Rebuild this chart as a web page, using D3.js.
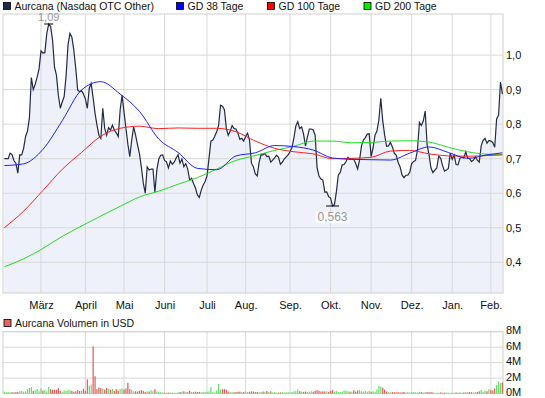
<!DOCTYPE html>
<html>
<head>
<meta charset="utf-8">
<script src="https://cdn.jsdelivr.net/npm/d3@7"></script>
<style>
  body { margin: 0; background: #fff; }
  svg text { font-family: "Liberation Sans", Arial, sans-serif; font-size: 11px; }
</style>
</head>
<body>
<svg id="chart" width="545" height="398"></svg>
<script>
// ========================================
// DATA (trading-day index 0 = early Feb)
// ========================================

const monthLabels = ['März', 'April', 'Mai', 'Juni', 'Juli', 'Aug.', 'Sep.', 'Okt.', 'Nov.', 'Dez.', 'Jan.', 'Feb.'];
const monthStartDay = [19, 42, 62, 83, 105, 125, 148, 169, 190, 211, 232, 252];

const priceTicks = [0.4, 0.5, 0.6, 0.7, 0.8, 0.9, 1.0];
const volumeTicks = [0, 2, 4, 6, 8];

const closePrices = [
  0.700,0.700,0.700,0.716,0.712,0.694,0.687,0.658,0.711,0.711,
  0.730,0.764,0.780,0.818,0.935,0.900,0.915,0.936,0.960,1.012,
  1.006,1.007,1.063,1.090,1.083,1.043,0.965,0.942,0.884,0.846,
  0.864,0.880,0.940,1.030,1.063,1.052,1.014,0.962,0.899,0.894,
  0.897,0.887,0.873,0.846,0.904,0.918,0.876,0.831,0.797,0.768,
  0.759,0.846,0.788,0.768,0.790,0.783,0.797,0.783,0.775,0.764,
  0.841,0.884,0.835,0.788,0.742,0.706,0.754,0.792,0.768,0.740,
  0.715,0.675,0.629,0.600,0.676,0.667,0.670,0.670,0.603,0.667,
  0.699,0.710,0.711,0.695,0.691,0.673,0.693,0.684,0.690,0.702,
  0.711,0.687,0.699,0.677,0.686,0.670,0.638,0.643,0.628,0.615,
  0.595,0.588,0.609,0.624,0.634,0.650,0.700,0.751,0.754,0.765,
  0.778,0.797,0.855,0.852,0.842,0.788,0.768,0.780,0.796,0.787,
  0.786,0.774,0.756,0.759,0.751,0.765,0.774,0.754,0.687,0.677,
  0.656,0.650,0.690,0.712,0.711,0.715,0.706,0.707,0.690,0.696,
  0.702,0.710,0.705,0.684,0.690,0.699,0.705,0.711,0.720,0.733,
  0.760,0.795,0.807,0.787,0.792,0.771,0.737,0.763,0.786,0.786,
  0.783,0.768,0.673,0.650,0.641,0.638,0.603,0.604,0.590,0.586,
  0.563,0.567,0.604,0.653,0.660,0.682,0.683,0.692,0.704,0.698,
  0.700,0.698,0.686,0.670,0.696,0.737,0.754,0.761,0.771,0.772,
  0.706,0.731,0.768,0.780,0.812,0.875,0.810,0.768,0.736,0.737,
  0.747,0.734,0.716,0.710,0.689,0.676,0.653,0.645,0.652,0.652,
  0.661,0.686,0.692,0.695,0.725,0.805,0.796,0.809,0.838,0.740,
  0.711,0.673,0.660,0.667,0.673,0.707,0.702,0.680,0.664,0.667,
  0.672,0.716,0.698,0.710,0.683,0.682,0.701,0.704,0.702,0.720,
  0.702,0.700,0.692,0.696,0.705,0.696,0.690,0.737,0.753,0.759,
  0.745,0.753,0.751,0.747,0.733,0.815,0.826,0.922,0.887
];

// volume in million USD
const volumeM = [
  0.25,0.20,0.22,0.18,0.20,0.15,0.22,0.20,0.30,0.36,
  0.25,0.30,0.58,0.72,0.85,0.35,0.50,0.58,0.30,0.67,
  0.40,0.45,0.30,0.85,0.58,0.50,0.50,0.50,0.72,0.35,
  0.25,0.40,0.35,0.45,0.45,0.35,0.25,0.30,0.45,0.35,
  0.40,0.63,0.35,1.84,0.99,1.17,6.10,2.25,0.58,0.81,
  0.72,0.63,0.50,0.72,0.58,0.50,0.63,0.35,0.58,0.40,
  0.58,0.67,0.50,0.67,1.39,0.58,0.50,0.30,0.30,0.27,
  0.35,0.45,0.35,0.22,0.27,0.27,0.45,0.30,0.58,0.27,
  0.22,0.20,0.15,0.12,0.10,0.12,0.15,0.10,0.12,0.10,
  0.18,0.20,0.25,0.30,0.22,0.18,0.35,0.22,0.18,0.25,
  0.20,0.22,0.18,0.22,0.20,0.25,0.30,0.85,0.20,0.15,
  0.40,1.26,0.50,0.58,0.58,0.50,0.27,0.20,0.20,0.18,
  0.20,0.22,0.25,0.20,0.22,0.27,0.20,0.22,0.30,0.25,
  0.20,0.22,0.18,0.20,0.27,0.22,0.35,0.22,0.30,0.15,
  0.20,0.12,0.12,0.15,0.20,0.15,0.18,0.20,0.15,0.22,
  0.30,0.35,0.54,0.30,0.27,0.22,0.27,0.22,0.25,0.30,
  0.25,0.35,0.45,0.35,0.27,0.30,0.27,0.30,0.22,0.35,
  0.45,0.25,0.35,0.22,0.20,0.27,0.40,0.40,0.30,0.25,
  0.27,0.45,0.25,0.40,0.45,0.30,0.27,0.35,0.25,0.35,
  0.22,0.30,0.25,0.54,0.99,0.90,0.76,0.50,0.27,0.20,
  0.15,0.20,0.18,0.15,0.20,0.15,0.18,0.22,0.15,0.20,
  0.15,0.20,0.22,0.18,0.15,0.25,0.20,0.15,0.22,0.20,
  0.18,0.20,0.15,0.12,0.10,0.12,0.15,0.10,0.12,0.15,
  0.12,0.10,0.08,0.12,0.15,0.10,0.18,0.12,0.15,0.20,
  0.15,0.20,0.18,0.15,0.20,0.22,0.30,0.45,0.25,0.40,
  0.30,0.58,0.45,0.40,0.67,1.12,1.57,1.35,1.44
];

const maDays = [0,10,20,30,40,50,60,70,80,90,100,110,120,130,140,150,160,170,180,190,200,210,220,230,240,250,258];
const gd38 = [0.680,0.685,0.727,0.810,0.899,0.923,0.887,0.837,0.757,0.718,0.672,0.668,0.708,0.717,0.738,0.735,0.725,0.702,0.698,0.697,0.696,0.716,0.734,0.718,0.701,0.711,0.717];
const gd100 = [0.500,0.548,0.608,0.669,0.718,0.765,0.788,0.794,0.787,0.789,0.788,0.788,0.778,0.751,0.730,0.720,0.714,0.700,0.701,0.704,0.722,0.724,0.714,0.708,0.707,0.709,0.711];
const gd200 = [0.387,0.410,0.440,0.475,0.505,0.534,0.562,0.589,0.606,0.626,0.645,0.670,0.695,0.709,0.724,0.736,0.751,0.751,0.746,0.747,0.751,0.752,0.748,0.733,0.720,0.713,0.712];

const fmt = d3.format('.1f');
const comma = s => s.replace('.', ',');

// ========================================
// SCALES
// ========================================

const svg = d3.select('#chart');
const plot = { left: 3, right: 503, top: 14, bottom: 293 };
const volPlot = { top: 331.7, bottom: 393.6 };

const x = d3.scaleLinear().domain([-0.68, 258.3]).range([plot.left, plot.right]);
const y = d3.scaleLinear().domain([0.311, 1.119]).range([plot.bottom, plot.top]);
const yVol = d3.scaleLinear().domain([0, 8]).range([volPlot.bottom, volPlot.top]);

// ========================================
// LEGEND
// ========================================

const legendItems = [
  { label: 'Aurcana (Nasdaq OTC Other)', color: '#1d2947', x: 3.5 },
  { label: 'GD 38 Tage', color: '#0000ff', x: 176.5 },
  { label: 'GD 100 Tage', color: '#ff0000', x: 267.5 },
  { label: 'GD 200 Tage', color: '#00ee00', x: 364 }
];
const legend = svg.append('g');
legend.selectAll('rect').data(legendItems).enter().append('rect')
  .attr('x', d => d.x).attr('y', 2.5).attr('width', 7).attr('height', 7)
  .attr('fill', d => d.color).attr('stroke', '#000').attr('stroke-width', 0.8);
legend.selectAll('text').data(legendItems).enter().append('text')
  .attr('x', d => d.x + 11).attr('y', 10)
  .attr('fill', '#111')
  .style('font-size', '10.5px')
  .text(d => d.label);

// ========================================
// MAIN PRICE PANEL
// ========================================

const main = svg.append('g');
main.append('rect')
  .attr('x', plot.left).attr('y', plot.top)
  .attr('width', plot.right - plot.left).attr('height', plot.bottom - plot.top)
  .attr('fill', '#fff');

const area = d3.area()
  .x((d, i) => x(i))
  .y0(plot.bottom)
  .y1(d => y(d));
main.append('path').datum(closePrices)
  .attr('d', area)
  .attr('fill', '#eef1f9');

// grid
main.append('g').selectAll('line').data(priceTicks).enter().append('line')
  .attr('x1', plot.left).attr('x2', plot.right)
  .attr('y1', d => y(d)).attr('y2', d => y(d))
  .attr('stroke', '#d8d8d8');
main.append('g').selectAll('line').data(monthStartDay).enter().append('line')
  .attr('x1', d => x(d)).attr('x2', d => x(d))
  .attr('y1', plot.top).attr('y2', plot.bottom)
  .attr('stroke', '#d8d8d8');
main.append('rect')
  .attr('x', plot.left).attr('y', plot.top)
  .attr('width', plot.right - plot.left).attr('height', plot.bottom - plot.top)
  .attr('fill', 'none').attr('stroke', '#d0d0d0');

// price line
const priceLine = d3.line().x((d, i) => x(i)).y(d => y(d));
main.append('path').datum(closePrices)
  .attr('d', priceLine)
  .attr('fill', 'none').attr('stroke', '#222b45').attr('stroke-width', 1.2);

// moving averages
const maLine = d3.line().x((d, i) => x(maDays[i])).y(d => y(d)).curve(d3.curveMonotoneX);
[[gd200, '#22dd22'], [gd100, '#ff2020'], [gd38, '#2020ff']].forEach(([series, color]) => {
  main.append('path').datum(series)
    .attr('d', maLine)
    .attr('fill', 'none').attr('stroke', color).attr('stroke-width', 1);
});

// high / low markers
const hiIdx = d3.maxIndex(closePrices);
const loIdx = d3.minIndex(closePrices);
main.append('line')
  .attr('x1', x(hiIdx) - 4.5).attr('x2', x(hiIdx) + 4.5)
  .attr('y1', y(closePrices[hiIdx])).attr('y2', y(closePrices[hiIdx]))
  .attr('stroke', '#000');
main.append('text')
  .attr('x', x(hiIdx)).attr('y', y(closePrices[hiIdx]) - 3)
  .attr('text-anchor', 'middle').attr('fill', '#999')
  .text(comma(d3.format('.2f')(closePrices[hiIdx])));
main.append('line')
  .attr('x1', x(loIdx) - 6.5).attr('x2', x(loIdx) + 6.5)
  .attr('y1', y(closePrices[loIdx])).attr('y2', y(closePrices[loIdx]))
  .attr('stroke', '#000');
main.append('rect')
  .attr('x', x(loIdx) - 17).attr('y', y(closePrices[loIdx]) + 6)
  .attr('width', 34).attr('height', 11)
  .attr('fill', '#fff').attr('opacity', 0.7);
main.append('text')
  .attr('x', x(loIdx)).attr('y', y(closePrices[loIdx]) + 15.5)
  .attr('text-anchor', 'middle').attr('fill', '#999')
  .style('font-size', '12px')
  .text(comma(d3.format('.3f')(closePrices[loIdx])));

// axes
const yAxis = main.append('g')
  .attr('transform', `translate(${plot.right},0)`)
  .call(d3.axisRight(y).tickValues(priceTicks).tickSize(0).tickPadding(3).tickFormat(d => comma(fmt(d))));
yAxis.select('.domain').remove();
yAxis.selectAll('text').attr('fill', '#111').style('font-size', '11px');

const xAxis = main.append('g')
  .attr('transform', `translate(0,${plot.bottom})`)
  .call(d3.axisBottom(x).tickValues(monthStartDay).tickSize(0).tickPadding(8)
    .tickFormat((d, i) => monthLabels[i]));
xAxis.select('.domain').remove();
xAxis.selectAll('text').attr('fill', '#111').style('font-size', '11px');

// ========================================
// VOLUME PANEL
// ========================================

const vol = svg.append('g');
vol.append('rect')
  .attr('x', 4).attr('y', 319.5).attr('width', 7).attr('height', 7)
  .attr('fill', '#e06666').attr('stroke', '#000').attr('stroke-width', 0.8);
vol.append('text').attr('x', 15).attr('y', 327).attr('fill', '#111')
  .style('font-size', '10.5px')
  .text('Aurcana Volumen in USD');

vol.append('rect')
  .attr('x', plot.left).attr('y', volPlot.top)
  .attr('width', plot.right - plot.left).attr('height', volPlot.bottom - volPlot.top)
  .attr('fill', '#fff');
vol.append('g').selectAll('line').data(volumeTicks.slice(1)).enter().append('line')
  .attr('x1', plot.left).attr('x2', plot.right)
  .attr('y1', d => yVol(d)).attr('y2', d => yVol(d))
  .attr('stroke', '#d8d8d8');
vol.append('g').selectAll('line').data(monthStartDay).enter().append('line')
  .attr('x1', d => x(d)).attr('x2', d => x(d))
  .attr('y1', volPlot.top).attr('y2', volPlot.bottom)
  .attr('stroke', '#d8d8d8');
vol.append('rect')
  .attr('x', plot.left).attr('y', volPlot.top)
  .attr('width', plot.right - plot.left).attr('height', volPlot.bottom - volPlot.top)
  .attr('fill', 'none').attr('stroke', '#d0d0d0');

vol.append('g').selectAll('rect').data(volumeM).enter().append('rect')
  .attr('x', (d, i) => x(i) - 0.6)
  .attr('width', 1.2)
  .attr('y', d => yVol(d))
  .attr('height', d => yVol(0) - yVol(d))
  .attr('fill', (d, i) => (i > 0 && closePrices[i] < closePrices[i - 1]) ? '#e05a5a' : '#66dd66');

const vAxis = vol.append('g')
  .attr('transform', `translate(${plot.right},0)`)
  .call(d3.axisRight(yVol).tickValues(volumeTicks).tickSize(0).tickPadding(3).tickFormat(d => d + 'M'));
vAxis.select('.domain').remove();
vAxis.selectAll('text').attr('fill', '#111').style('font-size', '11px').attr('dy', '0.2em');
</script>
</body>
</html>
